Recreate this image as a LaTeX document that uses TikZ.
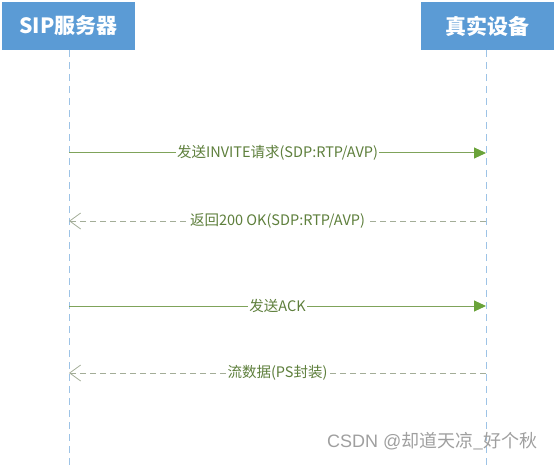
\documentclass[tikz,border=0pt]{standalone}
\usepackage{fontspec}
\setmainfont{Noto Sans CJK SC}
\newfontfamily\wmfont{Liberation Sans}
\usetikzlibrary{arrows.meta}
\definecolor{boxblue}{HTML}{5B9BD5}
\definecolor{lifeblue}{HTML}{9DC3E6}
\definecolor{msggreen}{HTML}{7FA35A}
\definecolor{tipgreen}{HTML}{6AA33A}
\definecolor{txtgreen}{HTML}{5E7F3C}
\definecolor{retgray}{HTML}{A3AD98}
\begin{document}
\begin{tikzpicture}[x=1pt,y=-1pt,
  actor/.style={fill=boxblue, text=white, font=\fontsize{21}{25}\selectfont\bfseries, minimum width=133pt, minimum height=48pt, inner sep=0pt},
  life/.style={draw=lifeblue, line width=0.8pt, dash pattern=on 7pt off 5pt},
  call/.style={draw=msggreen, line width=1pt, -{Triangle[length=12pt,width=11pt,fill=tipgreen,color=tipgreen]}},
  reply/.style={draw=retgray, line width=1pt, dash pattern=on 6pt off 4pt, -{Straight Barb[length=11pt,width=16pt,line width=0.8pt]}},
  lbl/.style={fill=white, text=txtgreen, font=\fontsize{14.5}{17}\selectfont, inner sep=1pt},
  wm/.style={text=gray!75, font=\fontsize{18}{21}\selectfont}
]
\useasboundingbox (0,0) rectangle (556,465);
\node[actor] (sip) at (68.5,26) {SIP服务器};
\node[actor] (dev) at (487,26) {真实设备};
\coordinate (sipend) at (69,465);
\coordinate (devend) at (486,465);
\draw[life] (sip.south -| sipend) -- (sipend);
\draw[life] (dev.south -| devend) -- (devend);
\coordinate (a1) at (69,153); \coordinate (b1) at (486,153);
\coordinate (a2) at (69,221); \coordinate (b2) at (486,221);
\coordinate (a3) at (69,306); \coordinate (b3) at (486,306);
\coordinate (a4) at (69,373); \coordinate (b4) at (486,373);
\draw[call] (a1) -- node[lbl] (m1) {发送INVITE请求(SDP:RTP/AVP)} (b1);
\draw[reply] (b2) -- node[lbl] (m2) {返回200 OK(SDP:RTP/AVP)} (a2);
\draw[call] (a3) -- node[lbl] (m3) {发送ACK} (b3);
\draw[reply] (b4) -- node[lbl] (m4) {流数据(PS封装)} (a4);
\node[wm, anchor=east] (wmark) at (541,441) {{\wmfont CSDN @}却道天凉\_好个秋};
\end{tikzpicture}
\end{document}
